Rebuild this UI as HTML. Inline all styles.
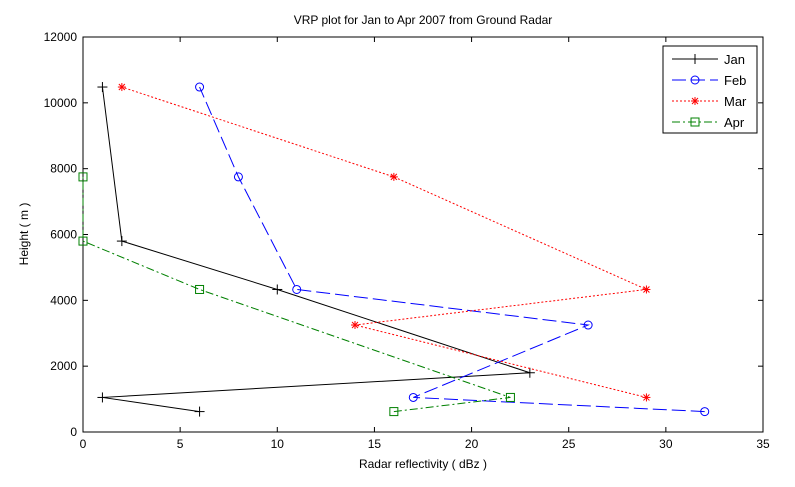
<!DOCTYPE html>
<html><head><meta charset="utf-8"><style>
html,body{margin:0;padding:0;background:#fff;}
svg text{font-family:"Liberation Sans",sans-serif;font-size:12px;fill:#000;}
</style></head><body>
<svg id="chart" width="795" height="482" viewBox="0 0 795 482" xmlns="http://www.w3.org/2000/svg">
<rect x="0" y="0" width="795" height="482" fill="#fff"/>
<rect x="83" y="37" width="680" height="395" fill="#fff" stroke="#000" stroke-width="1"/>
<text x="423" y="24" text-anchor="middle">VRP plot for Jan to Apr 2007 from Ground Radar</text>
<text x="423" y="468" text-anchor="middle">Radar reflectivity ( dBz )</text>
<text x="28" y="234" text-anchor="middle" transform="rotate(-90 28 234)">Height ( m )</text>
<g id="axes"></g>
<g id="series"></g>
<g id="legend"></g>
</svg>
<script>
const xTicks=[0,5,10,15,20,25,30,35];
const yTicks=[0,2000,4000,6000,8000,10000,12000];
const janX=[6,1,23,10,2,1];
const janY=[620,1050,1800,4330,5800,10480];
const febX=[32,17,26,11,8,6];
const febY=[620,1050,3250,4330,7750,10480];
const marX=[29,14,29,16,2];
const marY=[1050,3250,4330,7750,10480];
const aprX=[16,22,6,0,0];
const aprY=[620,1050,4330,5800,7750];
const seriesNames=["Jan","Feb","Mar","Apr"];

const NS="http://www.w3.org/2000/svg";
const X0=83,X1=763,Y0=432,Y1=37;
function sx(v){return X0+(v-0)/(35-0)*(X1-X0);}
function sy(v){return Y0-(v-0)/(12000-0)*(Y0-Y1);}
function mk(tag,attrs,parent){const e=document.createElementNS(NS,tag);for(const k in attrs)e.setAttribute(k,attrs[k]);parent.appendChild(e);return e;}
const axes=document.getElementById('axes');
xTicks.forEach(t=>{
  const x=sx(t);
  const l=mk('line',{x1:x,x2:x,y1:Y0,y2:Y0-5,stroke:'#000'},axes);
  
  
  const l2=mk('line',{x1:x,x2:x,y1:Y1,y2:Y1+5,stroke:'#000'},axes);
  
  
  const tx=mk('text',{x:x,y:Y0+16,'text-anchor':'middle'},axes);
  tx.textContent=t;
  
  
});
yTicks.forEach(t=>{
  const y=sy(t);
  const l=mk('line',{x1:X0,x2:X0+5,y1:y,y2:y,stroke:'#000'},axes);
  
  
  const l2=mk('line',{x1:X1,x2:X1-5,y1:y,y2:y,stroke:'#000'},axes);
  
  
  const tx=mk('text',{x:X0-6,y:y+4,'text-anchor':'end'},axes);
  tx.textContent=t;
  
  
});
function marker(type,x,y,color,g){
  if(type==='plus'){
    mk('line',{x1:x-5,x2:x+5,y1:y,y2:y,stroke:color},g);
    mk('line',{x1:x,x2:x,y1:y-5,y2:y+5,stroke:color},g);
  }else if(type==='circle'){
    mk('circle',{cx:x,cy:y,r:4,fill:'none',stroke:color},g);
  }else if(type==='star'){
    mk('line',{x1:x-4,x2:x+4,y1:y,y2:y,stroke:color},g);
    mk('line',{x1:x,x2:x,y1:y-4,y2:y+4,stroke:color},g);
    mk('line',{x1:x-3,x2:x+3,y1:y-3,y2:y+3,stroke:color},g);
    mk('line',{x1:x-3,x2:x+3,y1:y+3,y2:y-3,stroke:color},g);
  }else{
    mk('rect',{x:x-4,y:y-4,width:8,height:8,fill:'none',stroke:color},g);
  }
}
const defs=[
 {xs:janX,ys:janY,color:'#000',dash:'',m:'plus',name:'series-jan'},
 {xs:febX,ys:febY,color:'#0000ff',dash:'14 5',m:'circle',name:'series-feb'},
 {xs:marX,ys:marY,color:'#ff0000',dash:'2 2',m:'star',name:'series-mar'},
 {xs:aprX,ys:aprY,color:'#008000',dash:'8 3 2 3',m:'square',name:'series-apr'}
];
const sg=document.getElementById('series');
defs.forEach(d=>{
  const g=mk('g',{},sg);
  
  
  const pts=d.xs.map((v,i)=>sx(v)+','+sy(d.ys[i])).join(' ');
  const pl=mk('polyline',{points:pts,fill:'none',stroke:d.color,'stroke-dasharray':d.dash},g);
  
  
  d.xs.forEach((v,i)=>marker(d.m,sx(v),sy(d.ys[i]),d.color,g));
});
const lg=document.getElementById('legend');
mk('rect',{x:663,y:46,width:94,height:87,fill:'#fff',stroke:'#000'},lg);
defs.forEach((d,i)=>{
  const y=59+i*21;
  const e=mk('g',{},lg);
  
  
  mk('line',{x1:672,x2:718,y1:y,y2:y,stroke:d.color,'stroke-dasharray':d.dash},e);
  marker(d.m,695,y,d.color,e);
  const t=mk('text',{x:724,y:y+5},e);
  t.setAttribute('style','font-size:13px');
  t.textContent=seriesNames[i];
});
</script>
</body></html>
